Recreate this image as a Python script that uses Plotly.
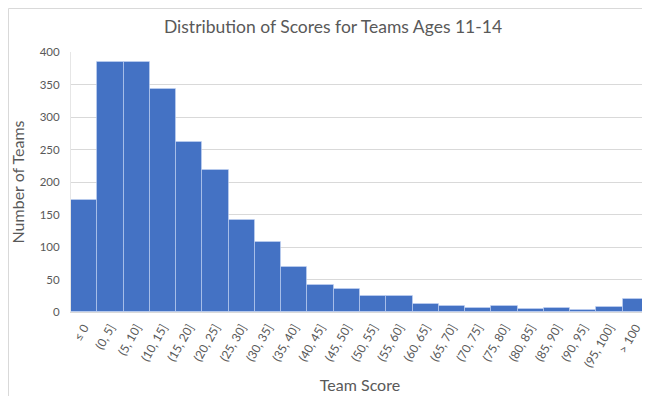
import plotly.graph_objects as go

categories = ["≤ 0", "(0, 5]", "(5, 10]", "(10, 15]", "(15, 20]", "(20, 25]", "(25, 30]",
              "(30, 35]", "(35, 40]", "(40, 45]", "(45, 50]", "(50, 55]", "(55, 60]",
              "(60, 65]", "(65, 70]", "(70, 75]", "(75, 80]", "(80, 85]", "(85, 90]",
              "(90, 95]", "(95, 100]", "> 100"]
counts = [173, 385, 385, 343, 262, 219, 142, 108, 69, 41, 35, 25, 24,
          12, 9, 6, 9, 5, 6, 3, 8, 20]
y_ticks = [0, 50, 100, 150, 200, 250, 300, 350, 400]

W, H = 650, 396
ML, MR, MT, MB = 63, 9, 44, 92
pw, ph = W - ML - MR, H - MT - MB

font_family = "Lato, Open Sans, sans-serif"
grey = "#595959"

fig = go.Figure(go.Bar(
    x=categories, y=counts,
    marker=dict(color="#4472C4", line=dict(color="rgba(200,215,245,0.55)", width=1)),
    hoverinfo="x+y",
))

fig.update_layout(
    width=W, height=H,
    margin=dict(l=ML, r=MR, t=MT, b=MB),
    paper_bgcolor="white", plot_bgcolor="white",
    bargap=0,
    showlegend=False,
    font=dict(family=font_family, color=grey),
    title=dict(text="Distribution of Scores for Teams Ages 11-14",
               x=0.5, xanchor="center", y=1 - 19 / H, yanchor="middle",
               font=dict(size=17.5, color=grey, family=font_family)),
    xaxis=dict(
        type="category", tickangle=-60,
        tickfont=dict(size=12, color=grey),
        showgrid=False, showline=True, linecolor="#d9d9d9", linewidth=1,
        ticks="", automargin=False, ticklabelstandoff=3,
        title=dict(text="Team Score", font=dict(size=16, color=grey), standoff=10),
    ),
    yaxis=dict(
        range=[0, 400], tickvals=y_ticks,
        tickfont=dict(size=11.5, color=grey),
        showgrid=True, gridcolor="#d9d9d9", gridwidth=1,
        zeroline=False, showline=True, linecolor="#e6e6e6", linewidth=1,
        ticks="", automargin=False, ticklabelstandoff=8,
        title=dict(text="Number of Teams", font=dict(size=16, color=grey), standoff=14),
    ),
    shapes=[dict(type="rect", xref="paper", yref="paper",
                 x0=-(ML - 0.5) / pw, x1=1 + (MR - 0.5) / pw,
                 y0=-(MB - 0.5) / ph, y1=1 + (MT - 0.5) / ph,
                 line=dict(color="#d9d9d9", width=1), layer="below")],
)

fig.write_html("out.html")
